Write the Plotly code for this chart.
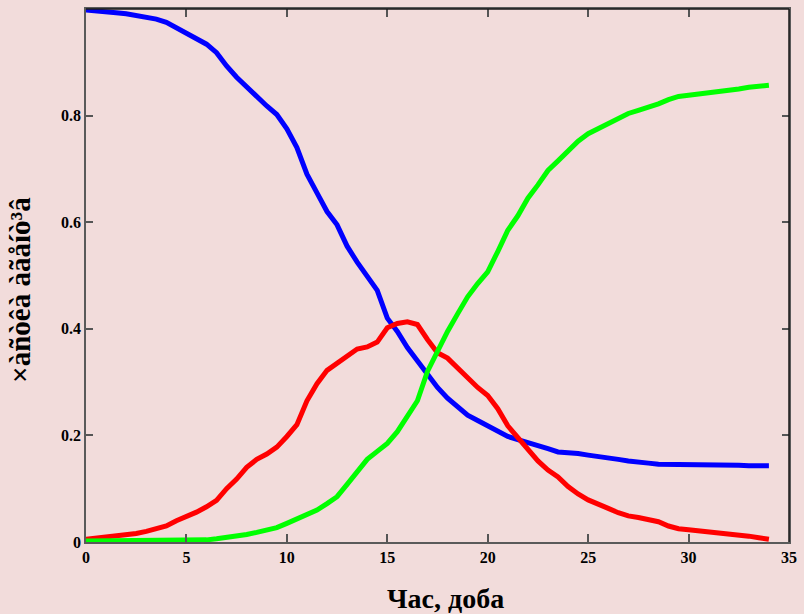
import plotly.graph_objects as go

# time grid (days)
t = [i * 0.5 for i in range(69)]

susceptible = [0.998, 0.997, 0.995, 0.993, 0.991, 0.988, 0.985, 0.981, 0.975, 0.965,
               0.953, 0.944, 0.934, 0.918, 0.893, 0.872, 0.853, 0.835, 0.818, 0.802,
               0.775, 0.740, 0.690, 0.655, 0.620, 0.595, 0.555, 0.525, 0.497, 0.472,
               0.420, 0.395, 0.365, 0.340, 0.315, 0.290, 0.270, 0.255, 0.238, 0.228,
               0.218, 0.208, 0.198, 0.192, 0.187, 0.182, 0.175, 0.169, 0.168, 0.166,
               0.163, 0.161, 0.159, 0.155, 0.152, 0.149, 0.148, 0.146, 0.146, 0.146,
               0.145, 0.145, 0.144, 0.144, 0.144, 0.144, 0.143, 0.143, 0.143]

infected = [0.005, 0.007, 0.009, 0.011, 0.013, 0.016, 0.020, 0.024, 0.030, 0.040,
            0.047, 0.056, 0.066, 0.078, 0.100, 0.118, 0.140, 0.155, 0.165, 0.178,
            0.198, 0.220, 0.265, 0.297, 0.322, 0.335, 0.348, 0.362, 0.366, 0.375,
            0.402, 0.410, 0.413, 0.408, 0.380, 0.355, 0.345, 0.327, 0.307, 0.290,
            0.275, 0.250, 0.218, 0.197, 0.175, 0.152, 0.135, 0.122, 0.104, 0.090,
            0.079, 0.072, 0.063, 0.055, 0.049, 0.046, 0.042, 0.038, 0.030, 0.025,
            0.023, 0.021, 0.020, 0.019, 0.017, 0.014, 0.011, 0.008, 0.005]

recovered = [0.002, 0.002, 0.002, 0.002, 0.002, 0.002, 0.002, 0.002, 0.002, 0.002,
             0.002, 0.002, 0.004, 0.006, 0.008, 0.011, 0.014, 0.018, 0.022, 0.027,
             0.035, 0.043, 0.052, 0.060, 0.072, 0.085, 0.108, 0.130, 0.155, 0.170,
             0.185, 0.207, 0.235, 0.265, 0.320, 0.360, 0.395, 0.428, 0.460, 0.485,
             0.507, 0.545, 0.585, 0.612, 0.645, 0.670, 0.697, 0.715, 0.735, 0.752,
             0.766, 0.776, 0.786, 0.796, 0.804, 0.810, 0.815, 0.822, 0.830, 0.836,
             0.838, 0.840, 0.842, 0.844, 0.848, 0.850, 0.853, 0.855, 0.857]

x_ticks = [0, 5, 10, 15, 20, 25, 30, 35]
y_ticks = [0, 0.2, 0.4, 0.6, 0.8]
y_tick_labels = ["0", "0.2", "0.4", "0.6", "0.8"]

x_title = "Час, доба"
y_title = "×àñòêà àãåíò³â"

BG = "#f2dcdb"
FONT = "Liberation Serif"

fig = go.Figure()
for ys, col in [(susceptible, "#0000ff"), (infected, "#ff0000"), (recovered, "#00ff00")]:
    fig.add_trace(go.Scatter(x=t, y=ys, mode="lines",
                             line=dict(color=col, width=5, shape="linear"),
                             showlegend=False, hoverinfo="skip"))

axis_common = dict(showgrid=False, zeroline=False, showline=True, linewidth=1.5,
                   linecolor="#5a5a5a", ticks="inside", tickcolor="#555555",
                   tickwidth=1.5, mirror="ticks",
                   tickfont=dict(family=FONT, size=16, color="black", weight="bold"))

fig.update_xaxes(range=[0, 35], tickvals=x_ticks, ticklen=8, **axis_common)
fig.update_yaxes(range=[0, 1.0], tickvals=y_ticks, ticktext=y_tick_labels,
                 ticklen=7, **axis_common)

fig.update_layout(
    width=804, height=614,
    margin=dict(l=86, r=7, t=9, b=72),
    paper_bgcolor=BG, plot_bgcolor=BG,
    font=dict(family=FONT, color="black"),
    shapes=[
        dict(type="line", xref="paper", yref="paper", x0=0, x1=1, y0=1, y1=1,
             line=dict(color="#1a1a1a", width=1.5)),
        dict(type="line", xref="paper", yref="paper", x0=1, x1=1, y0=0, y1=1,
             line=dict(color="#1a1a1a", width=1.5)),
    ],
    annotations=[
        dict(text="<b>" + x_title + "</b>", xref="paper", yref="paper",
             x=0.512, y=0, xanchor="center", yanchor="top", yshift=-39,
             showarrow=False, font=dict(family=FONT, size=28, color="black")),
        dict(text="<b>" + y_title + "</b>", xref="paper", yref="paper",
             x=0, y=0.473, xanchor="center", yanchor="middle", xshift=-66,
             textangle=-90, showarrow=False,
             font=dict(family=FONT, size=29, color="black")),
    ],
)

fig.write_html("out.html")
